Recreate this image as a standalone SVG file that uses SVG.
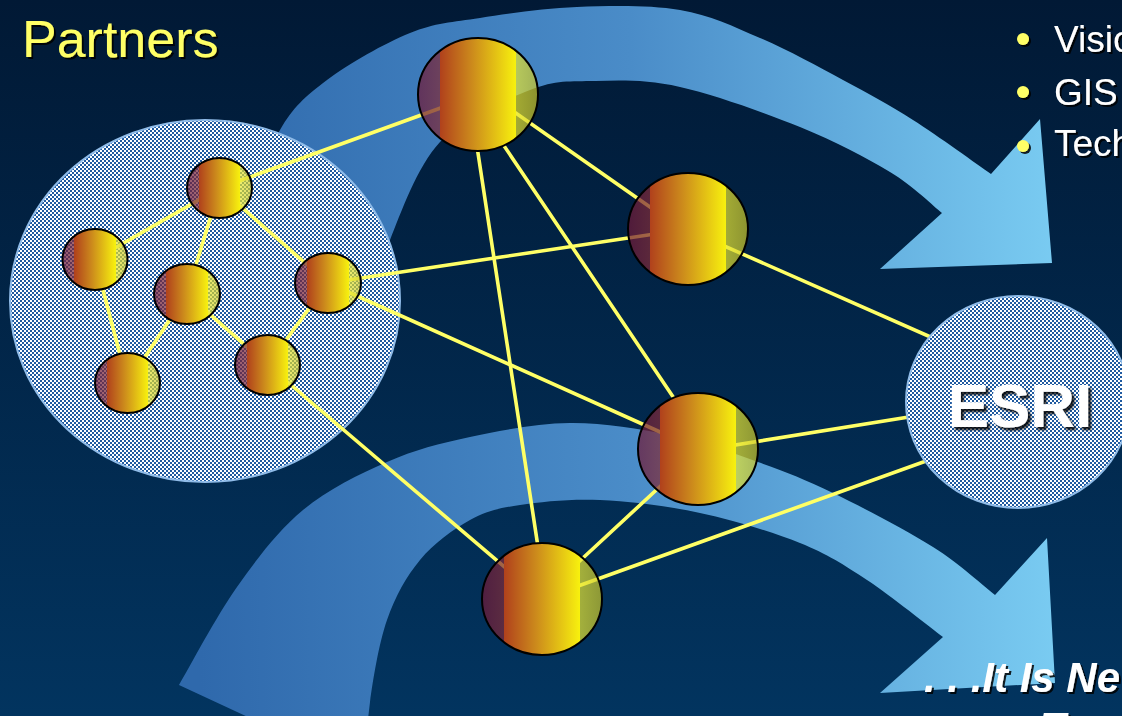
<svg xmlns="http://www.w3.org/2000/svg" width="1122" height="716" viewBox="0 0 1122 716">
<defs>
<linearGradient id="bg" x1="0" y1="0" x2="0" y2="1">
<stop offset="0" stop-color="#011935"/>
<stop offset="1" stop-color="#02345f"/>
</linearGradient>
<linearGradient id="arrowGrad" gradientUnits="userSpaceOnUse" x1="200" y1="0" x2="1060" y2="0">
<stop offset="0" stop-color="#2f69ac"/>
<stop offset="0.5" stop-color="#4a8cc8"/>
<stop offset="1" stop-color="#7accf2"/>
</linearGradient>
<pattern id="checks" width="4" height="4" patternUnits="userSpaceOnUse">
<rect width="4" height="4" fill="#ffffff"/>
<rect width="2" height="2" fill="#1f5aa0"/>
<rect x="2" y="2" width="2" height="2" fill="#1f5aa0"/>
</pattern>
<linearGradient id="ball" x1="0" y1="0" x2="1" y2="0">
<stop offset="0" stop-color="#6e1838" stop-opacity="0.72"/>
<stop offset="0.18" stop-color="#7e2a38" stop-opacity="0.72"/>
<stop offset="0.18" stop-color="#b0401c"/>
<stop offset="0.45" stop-color="#cc8a1c"/>
<stop offset="0.82" stop-color="#f8f20e"/>
<stop offset="0.82" stop-color="#e8e630" stop-opacity="0.7"/>
<stop offset="1" stop-color="#c8c428" stop-opacity="0.7"/>
</linearGradient>
<filter id="shadow" x="-10%" y="-20%" width="130%" height="150%">
<feDropShadow dx="2" dy="2" stdDeviation="0.6" flood-color="#000000" flood-opacity="0.85"/>
</filter>
<filter id="shadowBig" x="-10%" y="-20%" width="130%" height="150%">
<feDropShadow dx="3" dy="3" stdDeviation="0.8" flood-color="#000000" flood-opacity="0.85"/>
</filter>
<style>
.arrow{fill:url(#arrowGrad);}
.cluster{fill:url(#checks);stroke:#8fbbe8;stroke-width:2;}
.ball{fill:url(#ball);stroke:#000000;stroke-width:2;}
.link{stroke:#ffff66;stroke-width:3.6;fill:none;stroke-linecap:round;}
.title{font-family:"Liberation Sans",Arial,sans-serif;font-size:52px;fill:#ffff66;}
.bullet{font-family:"Liberation Sans",Arial,sans-serif;font-size:37px;fill:#ffffff;}
.dot{fill:#ffff66;}
.esri{font-family:"Liberation Sans",Arial,sans-serif;font-size:62px;font-weight:bold;fill:#ffffff;}
.tag{font-family:"Liberation Sans",Arial,sans-serif;font-size:42px;font-weight:bold;font-style:italic;fill:#ffffff;}
</style>
</defs>

<rect id="background" width="1122" height="716" fill="url(#bg)"/>

<g id="arrows">
<path id="arrow-top" class="arrow" d="M250,215 C255,200.8 267.2,152.5 280,130 C292.8,107.5 305.3,96.2 327,80 C348.7,63.8 384.5,43.3 410,33 C435.5,22.7 452.2,22.3 480,18 C507.8,13.7 543.7,8.3 577,7 C610.3,5.7 649.5,4.8 680,10 C710.5,15.2 732.8,26.3 760,38 C787.2,49.7 817.5,66.3 843,80 C868.5,93.7 888.3,104.3 913,120 C937.7,135.7 978,165 991,174 L1040,119 L1052,263 L880,269 L942,213 C933.3,206.2 913.7,186.3 890,172 C866.3,157.7 835,141.2 800,127 C765,112.8 714.2,94.7 680,87 C645.8,79.3 620,80.5 595,81 C570,81.5 555.8,79.8 530,90 C504.2,100.2 463.3,117 440,142 C416.7,167 400.7,213.7 390,240 C379.3,266.3 378.3,290 376,300 Z"/>
<path id="arrow-bottom" class="arrow" d="M179,685 C188.7,668.7 216.3,616.2 237,587 C257.7,557.8 278,530.8 303,510 C328,489.2 359.2,474.2 387,462 C414.8,449.8 439.5,443.5 470,437 C500.5,430.5 536.7,423.3 570,423 C603.3,422.7 638.7,428.5 670,435 C701.3,441.5 730.8,452.3 758,462 C785.2,471.7 803.8,478.8 833,493 C862.2,507.2 906,530 933,547 C960,564 984.7,587 995,595 L1047,538 L1055,683 L880,693 L943,637 C930.3,627.5 890.8,595.7 867,580 C843.2,564.3 827.8,554.2 800,543 C772.2,531.8 733.3,520.2 700,513 C666.7,505.8 630,501.3 600,500 C570,498.7 541.7,501.7 520,505 C498.3,508.3 486.7,510.8 470,520 C453.3,529.2 433.8,543.3 420,560 C406.2,576.7 395.3,596.3 387,620 C378.7,643.7 373,680 370,702 L362,770 Z"/>
</g>

<g id="partners-group">
<ellipse class="cluster" cx="205" cy="301" rx="195" ry="181"/>
</g>

<g id="connectors">
<line class="link" x1="219.5" y1="188" x2="95" y2="259.5"/>
<line class="link" x1="219.5" y1="188" x2="187" y2="294"/>
<line class="link" x1="219.5" y1="188" x2="328" y2="283"/>
<line class="link" x1="95" y1="259.5" x2="127.5" y2="383"/>
<line class="link" x1="187" y1="294" x2="127.5" y2="383"/>
<line class="link" x1="187" y1="294" x2="267.5" y2="365"/>
<line class="link" x1="328" y1="283" x2="267.5" y2="365"/>
<line class="link" x1="219.5" y1="188" x2="478" y2="94.5"/>
<line class="link" x1="328" y1="283" x2="688" y2="229"/>
<line class="link" x1="328" y1="283" x2="698" y2="449"/>
<line class="link" x1="267.5" y1="365" x2="542" y2="599"/>
<line class="link" x1="510" y1="109" x2="660" y2="214"/>
<line class="link" x1="486" y1="119" x2="690" y2="422"/>
<line class="link" x1="476" y1="140" x2="540" y2="560"/>
<line class="link" x1="688" y1="230" x2="960" y2="350"/>
<line class="link" x1="698" y1="451" x2="940" y2="412"/>
<line class="link" x1="542" y1="599" x2="940" y2="456"/>
<line class="link" x1="570" y1="570" x2="680" y2="468"/>
</g>

<g id="node-p1"><ellipse class="ball" cx="219.5" cy="188" rx="32.5" ry="30"/></g>
<g id="node-p2"><ellipse class="ball" cx="95" cy="259.5" rx="32.5" ry="30.5"/></g>
<g id="node-p3"><ellipse class="ball" cx="187" cy="294" rx="33" ry="30"/></g>
<g id="node-p4"><ellipse class="ball" cx="328" cy="283" rx="33" ry="30"/></g>
<g id="node-p5"><ellipse class="ball" cx="127.5" cy="383" rx="32.5" ry="30"/></g>
<g id="node-p6"><ellipse class="ball" cx="267.5" cy="365" rx="32.5" ry="30"/></g>

<g id="node-n1"><ellipse class="ball" cx="478" cy="94.5" rx="60" ry="56.5"/></g>
<g id="node-n2"><ellipse class="ball" cx="688" cy="229" rx="60" ry="56"/></g>
<g id="node-n3"><ellipse class="ball" cx="698" cy="449" rx="60" ry="56"/></g>
<g id="node-n4"><ellipse class="ball" cx="542" cy="599" rx="60" ry="56"/></g>

<g id="node-esri">
<ellipse class="cluster" cx="1018" cy="402" rx="112" ry="106"/>
<text class="esri" x="1020" y="427" text-anchor="middle" filter="url(#shadowBig)">ESRI</text>
</g>

<g id="title">
<text class="title" x="22" y="57" filter="url(#shadow)">Partners</text>
</g>

<g id="bullets">
<circle class="dot" cx="1023" cy="39" r="6" filter="url(#shadow)"/>
<circle class="dot" cx="1023" cy="92" r="6" filter="url(#shadow)"/>
<circle class="dot" cx="1023" cy="146" r="6" filter="url(#shadow)"/>
<text class="bullet" x="1054" y="52" filter="url(#shadow)">Visio</text>
<text class="bullet" x="1054" y="105" filter="url(#shadow)">GIS</text>
<text class="bullet" x="1054" y="156" filter="url(#shadow)">Tech</text>
</g>

<g id="tagline">
<text class="tag" x="924" y="692" filter="url(#shadow)">. . .It Is Ne</text>
<text class="tag" x="1040" y="742" filter="url(#shadow)">T</text>
</g>
</svg>
